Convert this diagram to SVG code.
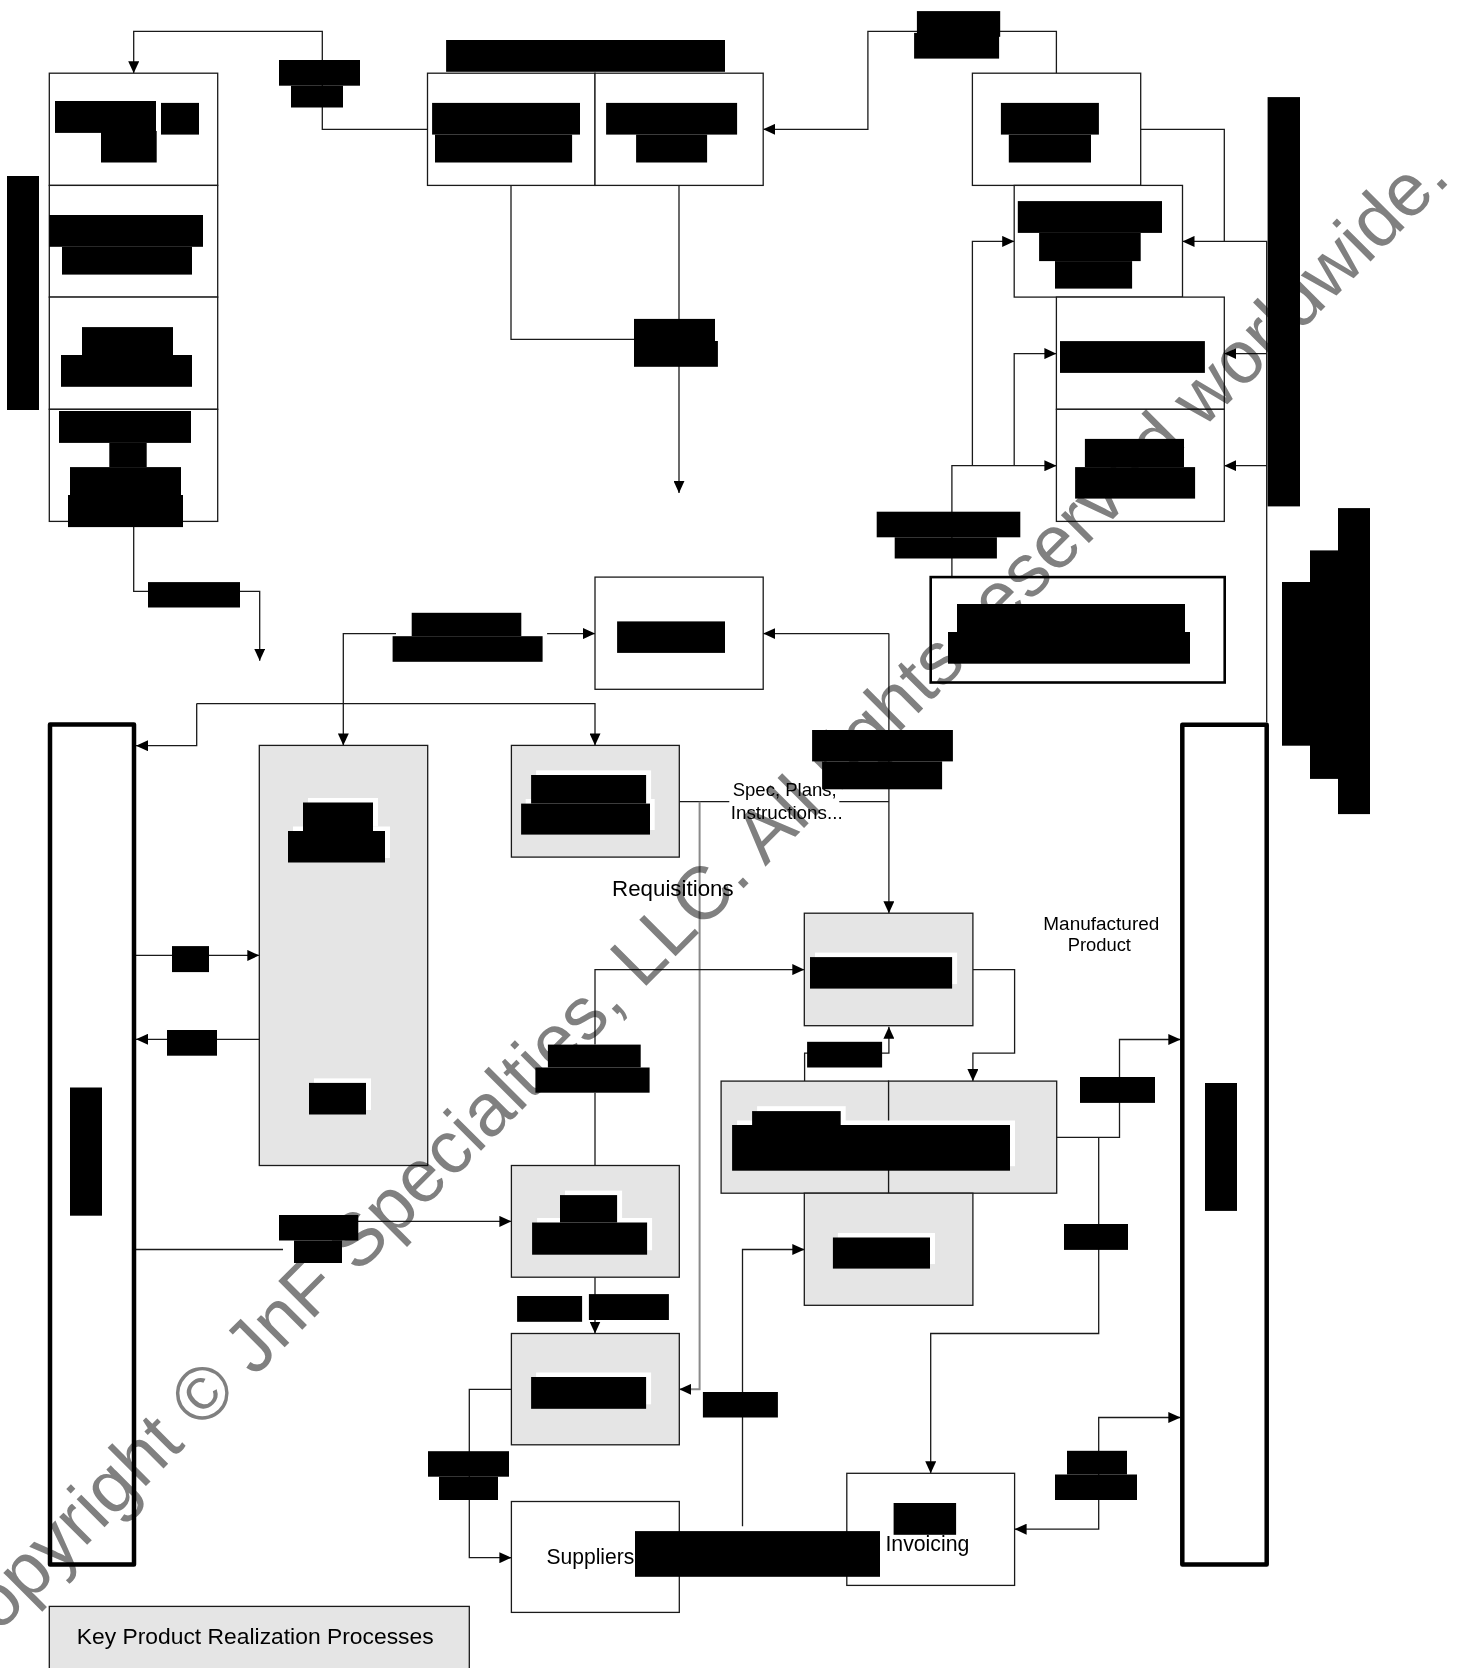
<svg xmlns="http://www.w3.org/2000/svg" width="1465" height="1668" viewBox="0 0 1465 1668">
<style>
.bx{fill:#fff;stroke:#1a1a1a;stroke-width:1.3}
.gy{fill:#e5e5e5;stroke:#1a1a1a;stroke-width:1.3}
.tk{fill:#fff;stroke:#000;stroke-width:4.5;stroke-linejoin:round}
.tk2{fill:#fff;stroke:#000;stroke-width:2.6}
.ln{fill:none;stroke:#1a1a1a;stroke-width:1.3}
.lg{fill:none;stroke:#8a8a8a;stroke-width:2}
.k{fill:#000}
.h{fill:#fff}
.t{font-family:"Liberation Sans",Arial,sans-serif;fill:#000}
.wm{font-family:"Liberation Sans",Arial,sans-serif;font-size:74.7px;fill:#808080;mix-blend-mode:multiply}
</style>
<defs>
<marker id="ah" markerWidth="12" markerHeight="11" refX="12" refY="5.5" orient="auto-start-reverse" markerUnits="userSpaceOnUse"><path d="M0,0 L12,5.5 L0,11 z" fill="#000"/></marker>
</defs>
<rect width="1465" height="1668" fill="#fff"/>

<g id="connectors">
<path class="ln" d="M427.5,129.3 H322.3 V31.4 H133.7 V73.2" marker-end="url(#ah)"/>
<path class="ln" d="M1056.4,73.2 V31.4 H867.9 V129.3 H763.2" marker-end="url(#ah)"/>
<path class="ln" d="M1140.7,129.3 H1224.3 V241.4"/>
<path class="ln" d="M1266.7,722.5 V241.4 H1182.5" marker-end="url(#ah)"/>
<path class="ln" d="M1266.7,353.6 H1224.3" marker-end="url(#ah)"/>
<path class="ln" d="M1266.7,465.7 H1224.3" marker-end="url(#ah)"/>
<path class="ln" d="M951.9,600 V465.7 H1056.4" marker-end="url(#ah)"/>
<path class="ln" d="M972.4,465.7 V241.4 H1014.2" marker-end="url(#ah)"/>
<path class="ln" d="M1014.2,465.7 V353.6 H1056.4" marker-end="url(#ah)"/>
<path class="ln" d="M679,185.4 V492.9" marker-end="url(#ah)"/>
<path class="ln" d="M511,185.4 V339.3 H634"/>
<path class="ln" d="M133.7,521.4 V591.4 H259.7 V660.7" marker-end="url(#ah)"/>
<path class="ln" d="M888.9,633.6 H763.2" marker-end="url(#ah)"/>
<path class="ln" d="M888.9,633.6 V913.2" marker-end="url(#ah)"/>
<path class="ln" d="M547.1,633.6 H595" marker-end="url(#ah)"/>
<path class="ln" d="M396,633.6 H343.3 V745.4" marker-end="url(#ah)"/>
<path class="ln" d="M196.7,703.6 H595 V745.4" marker-end="url(#ah)"/>
<path class="ln" d="M196.7,703.6 V745.7 H136" marker-end="url(#ah)"/>
<path class="ln" d="M679.3,801.7 H729.3"/>
<path class="ln" d="M839.3,801.7 H888.9"/>
<path class="lg" d="M699.6,801.7 V1389.3 H679.3" marker-end="url(#ah)"/>
<path class="ln" d="M136,955.4 H259.3" marker-end="url(#ah)"/>
<path class="ln" d="M259.3,1039.3 H136" marker-end="url(#ah)"/>
<path class="ln" d="M136,1249.5 H283"/>
<path class="ln" d="M358,1221.4 H511.4" marker-end="url(#ah)"/>
<path class="ln" d="M595,1044.6 V969.6 H804.3" marker-end="url(#ah)"/>
<path class="ln" d="M595,1092.7 V1165.5"/>
<path class="ln" d="M595,1277.2 V1333.5" marker-end="url(#ah)"/>
<path class="ln" d="M511.4,1389.3 H469.3 V1557.7 H511.4" marker-end="url(#ah)"/>
<path class="ln" d="M804.6,1081.1 V1053.2 H888.9 V1026.8" marker-end="url(#ah)"/>
<path class="ln" d="M972.9,969.6 H1014.6 V1053.2 H972.9 V1081.1" marker-end="url(#ah)"/>
<path class="ln" d="M742.5,1526.2 V1249.5 H804.3" marker-end="url(#ah)"/>
<path class="ln" d="M1056.7,1137.4 H1119.5 V1039.5 H1180.3" marker-end="url(#ah)"/>
<path class="ln" d="M1098.7,1137.4 V1333.5 H930.7 V1473.3" marker-end="url(#ah)"/>
<path class="ln" d="M1180.3,1417.5 H1098.7 V1529.2 H1014.6" marker-start="url(#ah)" marker-end="url(#ah)"/>
</g>

<g id="node-left-column">
<rect class="bx" x="49.3" y="73.2" width="168.4" height="112.2"/>
<rect class="bx" x="49.3" y="185.4" width="168.4" height="111.7"/>
<rect class="bx" x="49.3" y="297.1" width="168.4" height="112.2"/>
<rect class="bx" x="49.3" y="409.3" width="168.4" height="112.1"/>
<rect class="k" x="55" y="101" width="101" height="31.9"/>
<rect class="k" x="161" y="102.9" width="38" height="31.7"/>
<rect class="k" x="101" y="131" width="55.7" height="31.5"/>
<rect class="k" x="49.3" y="215" width="153.7" height="31.8"/>
<rect class="k" x="62" y="246.8" width="130" height="27.8"/>
<rect class="k" x="82" y="327.1" width="91" height="27.9"/>
<rect class="k" x="61" y="355" width="131" height="31.8"/>
<rect class="k" x="59" y="411" width="132" height="31.9"/>
<rect class="k" x="109.3" y="442.9" width="37.4" height="24.2"/>
<rect class="k" x="70" y="467.1" width="111" height="27.9"/>
<rect class="k" x="68" y="495" width="115" height="32.1"/>
</g>
<g id="node-left-lane-label"><rect class="k" x="7" y="176" width="32" height="234"/></g>

<g id="node-top-center">
<rect class="k" x="446.1" y="40" width="278.9" height="31.8"/>
<rect class="bx" x="427.5" y="73.2" width="167.5" height="112.2"/>
<rect class="bx" x="595" y="73.2" width="168.2" height="112.2"/>
<rect class="k" x="432.1" y="102.9" width="147.9" height="31.7"/>
<rect class="k" x="435" y="134.6" width="137.1" height="27.9"/>
<rect class="k" x="606.1" y="102.9" width="131" height="31.7"/>
<rect class="k" x="636.1" y="134.6" width="71" height="27.9"/>
</g>

<g id="node-a">
<rect class="bx" x="972.4" y="73.2" width="168.3" height="112.2"/>
<rect class="k" x="1000.9" y="102.9" width="98" height="31.7"/>
<rect class="k" x="1008.8" y="134.6" width="82.2" height="27.9"/>
</g>
<g id="node-b">
<rect class="bx" x="1014.2" y="185.4" width="168.3" height="111.7"/>
<rect class="k" x="1017.8" y="201.1" width="144.2" height="31.8"/>
<rect class="k" x="1039.1" y="232.9" width="101.6" height="28.2"/>
<rect class="k" x="1055" y="261.1" width="77.1" height="27.5"/>
</g>
<g id="node-c">
<rect class="bx" x="1056.4" y="297.1" width="167.9" height="112.2"/>
<rect class="k" x="1060" y="341.1" width="144.9" height="31.8"/>
</g>
<g id="node-d">
<rect class="bx" x="1056.4" y="409.3" width="167.9" height="112.1"/>
<rect class="k" x="1084.9" y="438.9" width="99.1" height="28.2"/>
<rect class="k" x="1075.1" y="467.1" width="120" height="31.5"/>
</g>
<g id="node-right-top-label"><rect class="k" x="1267.6" y="97.1" width="32.4" height="409.3"/></g>

<g id="node-e">
<rect class="tk2" x="930.7" y="577.1" width="294" height="105.4"/>
<rect class="k" x="957" y="604" width="228" height="28.5"/>
<rect class="k" x="948" y="632" width="242" height="31.7"/>
</g>
<g id="node-m">
<rect class="bx" x="595" y="577.1" width="168.2" height="112.2"/>
<rect class="k" x="617.1" y="621.4" width="107.9" height="31.5"/>
</g>
<g id="node-right-stair-label">
<rect class="k" x="1338" y="508.1" width="32" height="306"/>
<rect class="k" x="1310" y="550.4" width="60" height="228.5"/>
<rect class="k" x="1282" y="582" width="88" height="163.7"/>
</g>

<g id="node-left-tall">
<rect class="tk" x="50" y="724.5" width="84" height="840"/>
<rect class="k" x="70" y="1087.5" width="32" height="128.2"/>
</g>
<g id="node-right-tall">
<rect class="tk" x="1182.3" y="724.8" width="84.4" height="839.7"/>
<rect class="k" x="1205" y="1083" width="32" height="127.9"/>
</g>

<g id="node-h">
<rect class="gy" x="259.3" y="745.4" width="168.4" height="420.1"/>
<rect class="h" x="308" y="798" width="70" height="28.5"/>
<rect class="h" x="293" y="826.5" width="97" height="31.5"/>
<rect class="k" x="303" y="802.5" width="70" height="28.5"/>
<rect class="k" x="288" y="831" width="97" height="31.5"/>
<rect class="h" x="314" y="1078.4" width="57" height="31.6"/>
<rect class="k" x="309" y="1082.9" width="57" height="31.6"/>
</g>
<g id="node-l">
<rect class="gy" x="511.4" y="745.4" width="167.9" height="111.7"/>
<rect class="h" x="536.1" y="770.4" width="115" height="28.6"/>
<rect class="h" x="525.7" y="799" width="129" height="31"/>
<rect class="k" x="531.1" y="775" width="115" height="28.6"/>
<rect class="k" x="521.1" y="803.6" width="128.9" height="31"/>
</g>
<g id="node-g">
<rect class="gy" x="804.3" y="913.2" width="168.6" height="112.5"/>
<rect class="h" x="815" y="952.6" width="142.1" height="31.5"/>
<rect class="k" x="810" y="957.1" width="142.1" height="31.5"/>
</g>
<g id="node-n">
<rect class="gy" x="721.1" y="1081.1" width="167.5" height="112.1"/>
<rect class="gy" x="888.6" y="1081.1" width="168.1" height="112.1"/>
<rect class="h" x="757.1" y="1106.2" width="88.6" height="20"/>
<rect class="h" x="737.1" y="1120.5" width="277.9" height="45.7"/>
<rect class="k" x="752.1" y="1111.1" width="88.6" height="14"/>
<rect class="k" x="732.1" y="1125" width="277.9" height="45.7"/>
</g>
<g id="node-o">
<rect class="gy" x="804.3" y="1193.2" width="168.6" height="112.1"/>
<rect class="h" x="837.9" y="1233" width="97.1" height="31.1"/>
<rect class="k" x="832.9" y="1237.5" width="97.1" height="31.1"/>
</g>
<g id="node-i">
<rect class="gy" x="511.4" y="1165.5" width="167.9" height="111.7"/>
<rect class="h" x="565" y="1190.6" width="57.1" height="27.4"/>
<rect class="h" x="537.1" y="1218" width="115" height="32.2"/>
<rect class="k" x="560" y="1195.1" width="57.1" height="27.4"/>
<rect class="k" x="532.1" y="1222.5" width="115" height="32.2"/>
</g>
<g id="node-j">
<rect class="gy" x="511.4" y="1333.5" width="167.9" height="111.3"/>
<rect class="h" x="536.1" y="1372.5" width="115" height="31.8"/>
<rect class="k" x="531.1" y="1377" width="115" height="31.8"/>
</g>
<g id="node-suppliers">
<rect class="bx" x="511.4" y="1501.5" width="167.9" height="110.9"/>
<text class="t" x="546.4" y="1564.3" font-size="21.5" textLength="88" lengthAdjust="spacingAndGlyphs">Suppliers</text>
</g>
<g id="node-invoicing">
<rect class="bx" x="846.8" y="1473.3" width="167.8" height="112.1"/>
<rect class="k" x="893.6" y="1503" width="62.5" height="31.8"/>
<text class="t" x="885.4" y="1550.6" font-size="21.3" textLength="84" lengthAdjust="spacingAndGlyphs">Invoicing</text>
</g>
<g id="node-legend">
<rect class="gy" x="49.3" y="1606.4" width="420" height="75"/>
<text class="t" x="76.7" y="1644.3" font-size="22.5" textLength="357" lengthAdjust="spacingAndGlyphs">Key Product Realization Processes</text>
</g>

<g id="labels">
<text class="t" x="732.7" y="796" font-size="18.5" textLength="104" lengthAdjust="spacingAndGlyphs">Spec, Plans,</text>
<text class="t" x="730.7" y="819.3" font-size="18.5" textLength="112" lengthAdjust="spacingAndGlyphs">Instructions...</text>
<text class="t" x="612.1" y="896.4" font-size="22" textLength="121.5" lengthAdjust="spacingAndGlyphs">Requisitions</text>
<text class="t" x="1043.3" y="929.6" font-size="19.2" textLength="116" lengthAdjust="spacingAndGlyphs">Manufactured</text>
<text class="t" x="1067.7" y="950.5" font-size="19.2" textLength="63.3" lengthAdjust="spacingAndGlyphs">Product</text>
<rect class="k" x="279" y="60" width="81" height="25.7"/>
<rect class="k" x="291" y="85.7" width="52" height="21.8"/>
<rect class="k" x="916.9" y="11.1" width="83.3" height="25.7"/>
<rect class="k" x="914.1" y="32.9" width="85" height="25.7"/>
<rect class="k" x="634" y="318.9" width="81" height="22.1"/>
<rect class="k" x="634" y="341" width="83.9" height="25.8"/>
<rect class="k" x="148" y="582.1" width="92" height="25.4"/>
<rect class="k" x="876.7" y="511.7" width="143.6" height="25.6"/>
<rect class="k" x="894.7" y="537.3" width="102.2" height="21.2"/>
<rect class="k" x="411.7" y="612.8" width="109.6" height="23.4"/>
<rect class="k" x="392.6" y="636.2" width="150" height="25.6"/>
<rect class="k" x="812.1" y="730" width="140.8" height="31.4"/>
<rect class="k" x="822.1" y="761.4" width="120" height="27.9"/>
<rect class="k" x="172" y="946.1" width="37" height="26"/>
<rect class="k" x="167" y="1030" width="50" height="25.7"/>
<rect class="k" x="279" y="1215" width="79.3" height="25.5"/>
<rect class="k" x="294" y="1240.5" width="48" height="22.5"/>
<rect class="k" x="547.9" y="1044.6" width="92.8" height="22.9"/>
<rect class="k" x="535.4" y="1067.5" width="114.2" height="25.2"/>
<rect class="k" x="807.1" y="1041.8" width="75" height="25.7"/>
<rect class="k" x="517.1" y="1296" width="65" height="25.8"/>
<rect class="k" x="588.9" y="1294.1" width="80" height="25.9"/>
<rect class="k" x="428" y="1451.2" width="81" height="25.5"/>
<rect class="k" x="439" y="1476.7" width="59" height="23.3"/>
<rect class="k" x="702.9" y="1392" width="75" height="25.5"/>
<rect class="k" x="635" y="1531.1" width="245" height="45.7"/>
<rect class="k" x="1080" y="1077" width="75" height="25.9"/>
<rect class="k" x="1064" y="1224" width="64" height="25.9"/>
<rect class="k" x="1067" y="1450.8" width="60" height="23.7"/>
<rect class="k" x="1055" y="1474.5" width="82" height="25.5"/>
</g>

<g id="watermark">
<text class="wm" transform="translate(-39.8,1671.7) rotate(-45)">Copyright © JnF Specialties, LLC. All rights reserved worldwide.</text>
</g>
</svg>
